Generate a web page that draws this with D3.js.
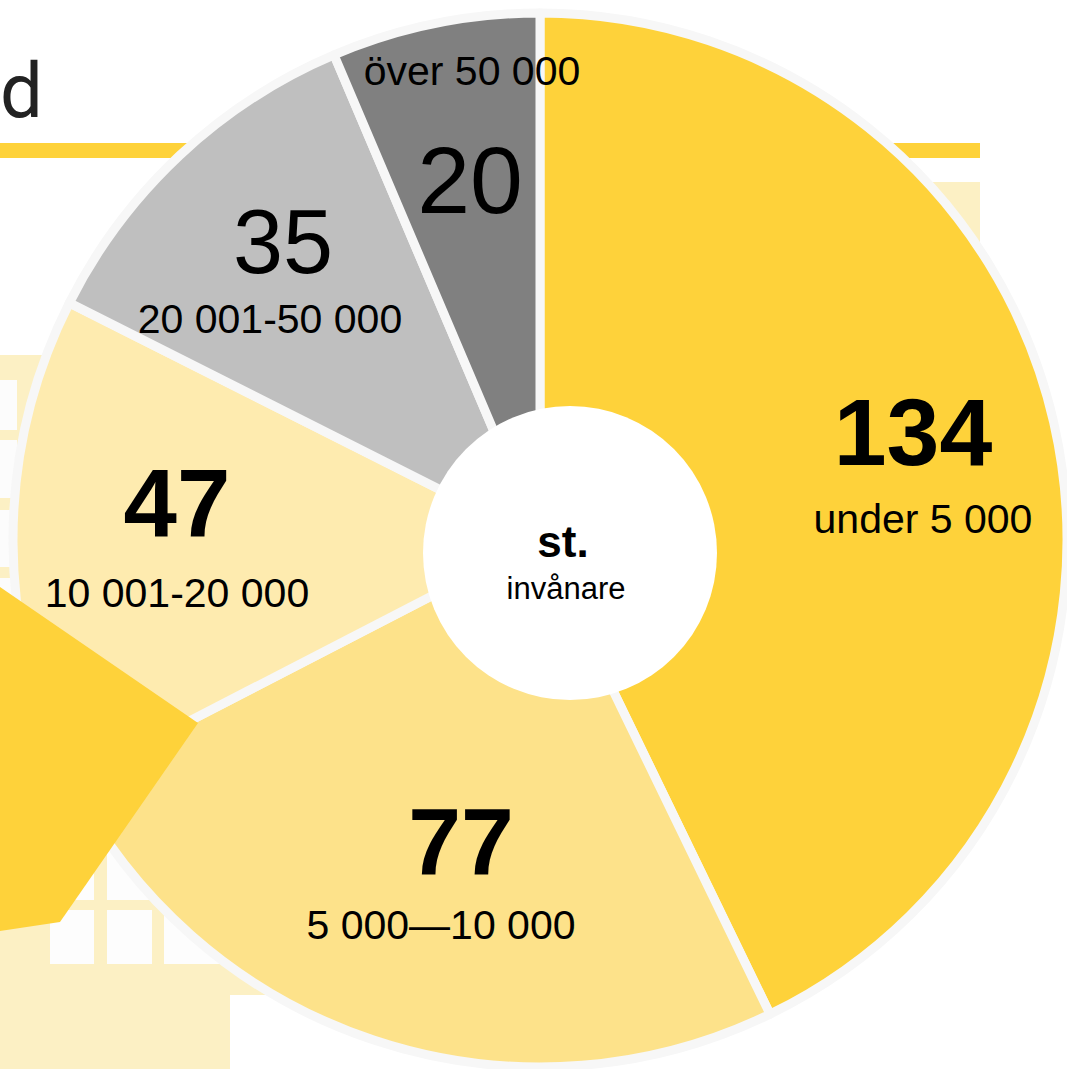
<!DOCTYPE html>
<html>
<head>
<meta charset="utf-8">
<script src="https://cdn.jsdelivr.net/npm/d3@7"></script>
<style>
  html, body { margin: 0; padding: 0; background: #fff; overflow: hidden; }
  svg { display: block; }
  text { font-family: "Liberation Sans", Arial, sans-serif; }
</style>
</head>
<body>
<svg id="chart" width="1067" height="1069"></svg>
<script>
// ---- data ----
const categories = ["under 5 000", "5 000\u201410 000", "10 001-20 000", "20 001-50 000", "över 50 000"];
const values = [134, 77, 47, 35, 20];
const centerTitle = "st.";
const centerSub = "invånare";
const titleText = "d";

// ---- styles / layout (kept separate from data) ----
const sliceColors = ["#FED23A", "#FDE28A", "#FEEBAF", "#BFBFBF", "#808080"];
const numWeights = ["bold", "bold", "bold", "normal", "normal"];
const numSizes = [95, 95, 96, 90, 95];
// label anchor points [x, y-baseline] for number and category text
const numPos = [[913, 465], [461, 875], [177, 537], [283, 273], [470, 213]];
const catPos = [[923, 533], [441, 939], [177, 607], [270, 333], [472, 85]];

const W = 1067, H = 1069;
const cx = 540, cy = 540, R = 527;
const lightYellow = "#FCF0C4";
const brightYellow = "#FED23A";

const svg = d3.select("#chart");

// ---- background decorations ----
const bg = svg.append("g");
// title fragment
bg.append("text").attr("x", 0).attr("y", 117).attr("text-anchor", "start")
  .style("font-family", "Roboto, 'Liberation Sans', sans-serif")
  .attr("font-size", 76).attr("font-weight", 400).attr("fill", "#222").text(titleText);
// yellow rule
bg.append("rect").attr("x", 0).attr("y", 143).attr("width", 980).attr("height", 15).attr("fill", brightYellow);
// light yellow panel right
bg.append("rect").attr("x", 600).attr("y", 182).attr("width", 380).attr("height", 500).attr("fill", lightYellow);
// left building (upper)
bg.append("rect").attr("x", 0).attr("y", 355).attr("width", 60).attr("height", 250).attr("fill", lightYellow);
[[380, 430], [440, 498], [510, 567], [578, 610]].forEach(([y0, y1]) => {
  bg.append("rect").attr("x", 0).attr("y", y0).attr("width", 17).attr("height", y1 - y0).attr("fill", "#FCFCFC");
});
// left building (lower)
bg.append("rect").attr("x", 0).attr("y", 840).attr("width", 300).attr("height", 229).attr("fill", lightYellow);
bg.append("rect").attr("x", 230).attr("y", 995).attr("width", 120).attr("height", 74).attr("fill", "#fff");
[[50, 94], [107, 152], [164, 260]].forEach(([x0, x1]) => {
  bg.append("rect").attr("x", x0).attr("y", 850).attr("width", x1 - x0).attr("height", 50).attr("fill", "#FDFDFD");
  bg.append("rect").attr("x", x0).attr("y", 910).attr("width", x1 - x0).attr("height", 54).attr("fill", "#FDFDFD");
});

// ---- pie ----
const pie = d3.pie().sort(null).value(d => d);
const arcs = pie(values);
const arc = d3.arc().innerRadius(0).outerRadius(R);
const colorScale = d3.scaleOrdinal().domain(categories).range(sliceColors);

const g = svg.append("g").attr("transform", `translate(${cx},${cy})`);
g.selectAll("path.slice").data(arcs).join("path")
  .attr("class", "slice")
  .attr("d", arc)
  .attr("fill", (d, i) => colorScale(categories[i]))
  .attr("stroke", "#F7F7F7")
  .attr("stroke-width", 9)
  .attr("stroke-linejoin", "round");

// ---- decorative polygon over the pie ----
svg.append("polygon")
  .attr("points", "0,587 198,723 60,922 0,931")
  .attr("fill", brightYellow);

// ---- white centre disc ----
svg.append("circle").attr("cx", 570).attr("cy", 553).attr("r", 147).attr("fill", "#fff");

// ---- labels ----
const lab = svg.append("g");
arcs.forEach((a, i) => {
  lab.append("text")
    .attr("x", numPos[i][0]).attr("y", numPos[i][1])
    .attr("text-anchor", "middle")
    .attr("font-size", numSizes[i])
    .attr("font-weight", numWeights[i])
    .attr("fill", "#000")
    .text(a.data);
  lab.append("text")
    .attr("x", catPos[i][0]).attr("y", catPos[i][1])
    .attr("text-anchor", "middle")
    .attr("font-size", 41)
    .attr("fill", "#000")
    .text(categories[i]);
});
lab.append("text").attr("x", 563).attr("y", 557).attr("text-anchor", "middle")
  .attr("font-size", 44).attr("font-weight", "bold").attr("fill", "#000").text(centerTitle);
lab.append("text").attr("x", 566).attr("y", 599).attr("text-anchor", "middle")
  .attr("font-size", 31).attr("fill", "#000").text(centerSub);
</script>
</body>
</html>
